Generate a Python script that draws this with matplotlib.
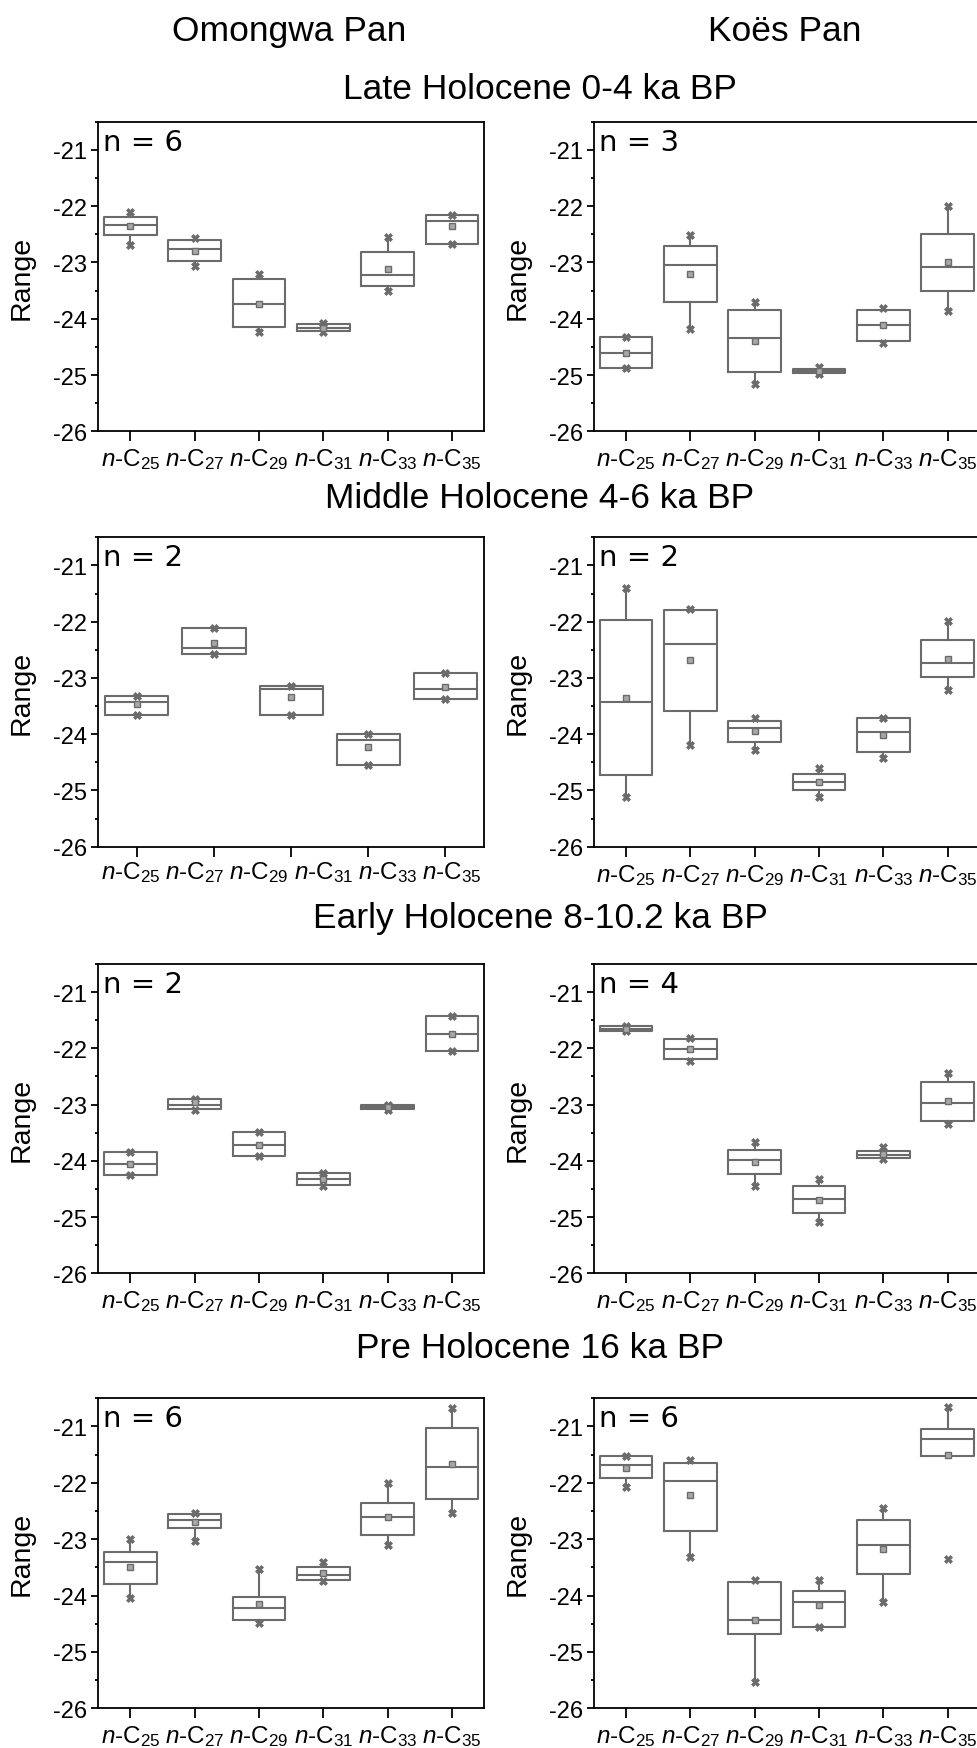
import matplotlib
matplotlib.use('Agg')
import matplotlib.pyplot as plt

plt.rcParams['font.family'] = ['Liberation Sans', 'DejaVu Sans']
plt.rcParams['mathtext.fontset'] = 'custom'
plt.rcParams['mathtext.rm'] = 'Liberation Sans'
plt.rcParams['mathtext.it'] = 'Liberation Sans:italic'
plt.rcParams['axes.unicode_minus'] = False

# compound labels on the x axis
compounds = ['25', '27', '29', '31', '33', '35']
tick_labels = [r'$\mathit{n}$-C$_{%s}$' % c for c in compounds]

sites = ['Omongwa Pan', 'Koës Pan']
periods = ['Late Holocene 0-4 ka BP', 'Middle Holocene 4-6 ka BP',
           'Early Holocene 8-10.2 ka BP', 'Pre Holocene 16 ka BP']

# one row per compound: min, q1, median, q3, max, mean
omongwa_late = [
    [-22.69, -22.52, -22.33, -22.20, -22.10, -22.36],
    [-23.07, -22.98, -22.77, -22.61, -22.57, -22.80],
    [-24.23, -24.15, -23.73, -23.30, -23.21, -23.73],
    [-24.24, -24.22, -24.17, -24.10, -24.07, -24.16],
    [-23.51, -23.42, -23.22, -22.82, -22.54, -23.12],
    [-22.67, -22.67, -22.27, -22.15, -22.15, -22.36],
]
koes_late = [
    [-24.88, -24.88, -24.61, -24.33, -24.33, -24.61],
    [-24.19, -23.70, -23.04, -22.70, -22.52, -23.20],
    [-25.16, -24.95, -24.35, -23.85, -23.71, -24.40],
    [-24.99, -24.96, -24.92, -24.89, -24.86, -24.92],
    [-24.43, -24.39, -24.12, -23.84, -23.81, -24.12],
    [-23.86, -23.50, -23.09, -22.50, -21.99, -23.00],
]
# this panel only has five boxes in the original
omongwa_mid = [
    [-23.65, -23.65, -23.42, -23.32, -23.32, -23.46],
    [-22.57, -22.57, -22.47, -22.12, -22.12, -22.38],
    [-23.65, -23.65, -23.20, -23.14, -23.14, -23.34],
    [-24.55, -24.55, -24.11, -24.00, -24.00, -24.22],
    [-23.38, -23.38, -23.20, -22.92, -22.92, -23.17],
]
koes_mid = [
    [-25.12, -24.73, -23.42, -21.97, -21.41, -23.35],
    [-24.20, -23.58, -22.40, -21.80, -21.77, -22.69],
    [-24.28, -24.14, -23.89, -23.76, -23.71, -23.95],
    [-25.11, -24.99, -24.85, -24.71, -24.60, -24.85],
    [-24.42, -24.31, -23.96, -23.72, -23.72, -24.02],
    [-23.21, -22.99, -22.73, -22.33, -21.99, -22.66],
]
omongwa_early = [
    [-24.25, -24.25, -24.05, -23.85, -23.85, -24.05],
    [-23.09, -23.08, -23.00, -22.90, -22.90, -22.96],
    [-23.92, -23.92, -23.71, -23.49, -23.49, -23.71],
    [-24.44, -24.43, -24.33, -24.21, -24.21, -24.33],
    [-23.09, -23.08, -23.04, -23.01, -23.00, -23.04],
    [-22.04, -22.04, -21.74, -21.43, -21.43, -21.74],
]
koes_early = [
    [-21.70, -21.70, -21.65, -21.60, -21.60, -21.65],
    [-22.23, -22.19, -22.01, -21.83, -21.82, -22.01],
    [-24.44, -24.23, -23.98, -23.81, -23.67, -24.02],
    [-25.08, -24.93, -24.67, -24.44, -24.33, -24.69],
    [-23.96, -23.95, -23.89, -23.83, -23.76, -23.88],
    [-23.34, -23.29, -22.98, -22.59, -22.44, -22.93],
]
omongwa_pre = [
    [-24.04, -23.79, -23.41, -23.23, -22.99, -23.49],
    [-23.04, -22.80, -22.66, -22.55, -22.54, -22.70],
    [-24.49, -24.44, -24.22, -24.02, -23.53, -24.15],
    [-23.75, -23.72, -23.63, -23.49, -23.40, -23.60],
    [-23.10, -22.93, -22.60, -22.36, -22.00, -22.60],
    [-22.54, -22.28, -21.72, -21.03, -20.67, -21.66],
]
koes_pre = [
    [-22.08, -21.91, -21.68, -21.53, -21.53, -21.74],
    [-23.31, -22.86, -21.97, -21.64, -21.59, -22.22],
    [-25.53, -24.69, -24.43, -23.76, -23.72, -24.43],
    [-24.55, -24.55, -24.12, -23.92, -23.73, -24.17],
    [-24.12, -23.62, -23.10, -22.66, -22.45, -23.17],
    [-23.35, -21.52, -21.22, -21.05, -20.66, -21.51],
]
koes_pre_low_outlier = [5]   # n-C35 minimum sits outside the whisker

omongwa_n = [6, 2, 2, 6]
koes_n = [3, 2, 4, 6]

panels = [[omongwa_late, koes_late], [omongwa_mid, koes_mid],
          [omongwa_early, koes_early], [omongwa_pre, koes_pre]]
n_values = [omongwa_n, koes_n]

W, H = 978, 1749
GRAY = '#6b6b6b'
row_px = [(122.7, 432.3), (538.3, 847.7), (965.0, 1274.3), (1399.3, 1709.3)]
col_px = [98.3, 594.0]
ax_w = 385.7
title_base = [99.3, 507.7, 928.0, 1358.3]

fig = plt.figure(figsize=(W / 100, H / 100), dpi=100)

for j, site in enumerate(sites):
    fig.text((col_px[j] + ax_w / 2 - 2) / W, 1 - 41 / H, site, ha='center',
             va='baseline', fontsize=25.5)
for i, period in enumerate(periods):
    fig.text(540 / W, 1 - title_base[i] / H, period, ha='center',
             va='baseline', fontsize=25.5)


def draw_panel(ax, rows, n, low_outliers=()):
    k = len(compounds)
    m = len(rows)
    # spread the boxes evenly over the six label slots
    step = k / m
    pos = [(b + 0.5) * step - 0.5 for b in range(m)]
    stats = []
    for b, (mn, q1, med, q3, mx, mean) in enumerate(rows):
        lo = q1 if b in low_outliers else mn
        stats.append(dict(med=med, q1=q1, q3=q3, whislo=lo, whishi=mx,
                          mean=mean, fliers=[mn, mx]))
    ax.bxp(stats, positions=pos, widths=0.82 * step, showmeans=True,
           showcaps=False, manage_ticks=False,
           boxprops=dict(color=GRAY, linewidth=1.5),
           whiskerprops=dict(color=GRAY, linewidth=1.5),
           medianprops=dict(color=GRAY, linewidth=1.5),
           meanprops=dict(marker='s', markersize=3.8, markerfacecolor='#a8a8a8',
                          markeredgecolor=GRAY, markeredgewidth=1.0),
           flierprops=dict(marker='X', markersize=6, markerfacecolor=GRAY,
                           markeredgecolor=GRAY, markeredgewidth=0.5))
    ax.set_xlim(-0.5, k - 0.5)
    ax.set_ylim(-26, -20.5)
    ax.set_yticks(range(-26, -20))
    ax.set_yticks([-25.5, -24.5, -23.5, -22.5, -21.5, -20.5], minor=True)
    ax.tick_params(axis='y', which='major', direction='out', length=5,
                   width=1.3, labelsize=17, pad=3)
    ax.tick_params(axis='y', which='minor', direction='out', length=2.5, width=1.3)
    if m == k:
        ax.set_xticks(range(k), tick_labels)
        ax.tick_params(axis='x', direction='out', length=7, width=1.3,
                       labelsize=17.5, pad=4)
    else:
        # ticks sit under the boxes, labels keep the six-slot layout
        ax.set_xticks(pos, [''] * m)
        ax.set_xticks(range(k), tick_labels, minor=True)
        ax.tick_params(axis='x', which='major', direction='out', length=7,
                       width=1.3)
        ax.tick_params(axis='x', which='minor', length=0, labelsize=17.5,
                       pad=4 + 7 * 0.72)
    for s in ax.spines.values():
        s.set_linewidth(1.3)
        s.set_color('black')
    ax.set_ylabel('Range', fontsize=20.5)
    ax.yaxis.set_label_coords(-0.165, 0.5)
    ax.text(0.013, 5 / 5.5, 'n = %d' % n, transform=ax.transAxes,
            family='DejaVu Sans', fontsize=21, va='baseline', ha='left')


for i in range(4):
    top, bot = row_px[i]
    for j in range(2):
        ax = fig.add_axes([col_px[j] / W, 1 - bot / H, ax_w / W, (bot - top) / H])
        low = koes_pre_low_outlier if (i == 3 and j == 1) else ()
        draw_panel(ax, panels[i][j], n_values[j][i], low)

fig.savefig('out.png', dpi=100)
